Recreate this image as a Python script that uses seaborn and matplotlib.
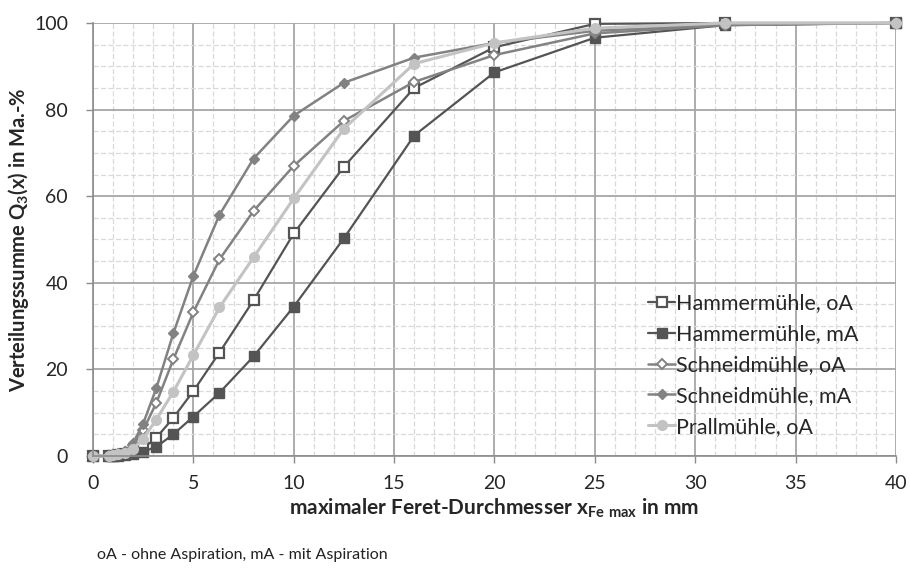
import matplotlib
matplotlib.use("Agg")
import matplotlib.pyplot as plt
import seaborn as sns
import pandas as pd
from matplotlib.ticker import MultipleLocator

# Sieve sizes (maximal Feret diameter, mm)
x_mm = [0, 0.8, 1, 1.25, 1.6, 2, 2.5, 3.15, 4, 5, 6.3, 8, 10, 12.5, 16, 20, 25, 31.5, 40]

# Cumulative distributions Q3(x) in mass-%
hammer_oa = [0, 0, 0.1, 0.2, 0.4, 0.8, 1.8, 4.2, 8.8, 15.0, 23.9, 36.0, 51.4, 66.8, 85.0, 94.4, 99.8, 100, 100]
hammer_ma = [0, 0, 0.1, 0.1, 0.2, 0.4, 1.0, 2.1, 5.0, 9.1, 14.6, 23.0, 34.5, 50.3, 74.0, 88.6, 96.6, 99.5, 100]
schneid_oa = [0, 0, 0.2, 0.4, 1.0, 2.5, 6.0, 12.2, 22.3, 33.2, 45.4, 56.6, 67.0, 77.4, 86.4, 92.6, 97.6, 99.5, 100]
schneid_ma = [0, 0, 0.2, 0.5, 1.2, 3.0, 7.5, 15.6, 28.3, 41.6, 55.7, 68.7, 78.6, 86.2, 92.0, 95.4, 98.2, 99.6, 100]
prall_oa = [0, 0, 0.2, 0.4, 0.8, 1.6, 4.0, 8.4, 14.8, 23.3, 34.3, 45.9, 59.5, 75.6, 90.6, 95.4, 98.8, 100, 100]

series_names = ["Hammermühle, oA", "Hammermühle, mA", "Schneidmühle, oA",
                "Schneidmühle, mA", "Prallmühle, oA"]
series_values = [hammer_oa, hammer_ma, schneid_oa, schneid_ma, prall_oa]

frames = [pd.DataFrame({"x": x_mm, "q3": v, "serie": n})
          for n, v in zip(series_names, series_values)]
df = pd.concat(frames, ignore_index=True)

styles = {
    "Hammermühle, oA": dict(color="#545454", marker="s", mfc="white", mec="#545454", ms=7.5, mew=1.6, lw=1.6),
    "Hammermühle, mA": dict(color="#545454", marker="s", mfc="#545454", mec="#545454", ms=7.5, mew=1.0, lw=1.6),
    "Schneidmühle, oA": dict(color="#828282", marker="D", mfc="white", mec="#828282", ms=5.0, mew=1.4, lw=1.8),
    "Schneidmühle, mA": dict(color="#828282", marker="D", mfc="#828282", mec="#828282", ms=5.0, mew=1.0, lw=1.8),
    "Prallmühle, oA": dict(color="#c3c3c3", marker="o", mfc="#c3c3c3", mec="#c3c3c3", ms=7.0, mew=1.0, lw=2.2),
}

sns.set_theme(style="white")
plt.rcParams["font.family"] = ["Lato", "DejaVu Sans"]
plt.rcParams["mathtext.fontset"] = "custom"
plt.rcParams["mathtext.rm"] = "Lato"
plt.rcParams["mathtext.bf"] = "Lato:bold"

fig = plt.figure(figsize=(9.10, 5.69), dpi=100)
ax = fig.add_axes([0.1022, 0.1986, 0.8824, 0.7610])

for name in series_names:
    st = styles[name]
    sns.lineplot(data=df[df["serie"] == name], x="x", y="q3", ax=ax,
                 estimator=None, sort=False, label=name,
                 color=st["color"], marker=st["marker"],
                 markerfacecolor=st["mfc"], markeredgecolor=st["mec"],
                 markersize=st["ms"], markeredgewidth=st["mew"],
                 linewidth=st["lw"], clip_on=False)

ax.set_xlim(0, 40)
ax.set_ylim(0, 100)
ax.xaxis.set_major_locator(MultipleLocator(5))
ax.xaxis.set_minor_locator(MultipleLocator(1))
ax.yaxis.set_major_locator(MultipleLocator(20))
ax.yaxis.set_minor_locator(MultipleLocator(5))

ax.grid(which="major", color="#a6a6a6", linewidth=1.3, linestyle="-")
ax.grid(which="minor", color="#d9d9d9", linewidth=0.9, linestyle=(0, (4, 2)))
ax.set_axisbelow(True)

for side in ["top", "right"]:
    ax.spines[side].set_visible(False)
for side in ["left", "bottom"]:
    ax.spines[side].set_color("#8c8c8c")
    ax.spines[side].set_linewidth(1.2)

ax.tick_params(axis="both", which="major", direction="out", length=5,
               width=1.0, color="#8c8c8c", labelsize=14,
               left=True, bottom=True)
ax.tick_params(axis="y", which="major", pad=13)
ax.tick_params(axis="x", which="major", pad=9)
ax.tick_params(axis="both", which="minor", length=0)

ax.set_xlabel(r"maximaler Feret-Durchmesser x$_\mathbf{Fe\ max}$ in mm",
              fontsize=15, fontweight="bold", labelpad=3)
ax.set_ylabel(r"Verteilungssumme Q$_\mathbf{3}$(x) in Ma.-%",
              fontsize=14.5, fontweight="bold", labelpad=2)

leg = ax.legend(loc="upper left", bbox_to_anchor=(0.681, 0.395), frameon=False,
                fontsize=15.5, handlelength=1.25, handletextpad=0.05,
                labelspacing=0.5, borderaxespad=0)

fig.text(0.107, 0.018, "oA - ohne Aspiration, mA - mit Aspiration",
         fontsize=11.5, color="#222222")

fig.savefig("out.png", dpi=100)
